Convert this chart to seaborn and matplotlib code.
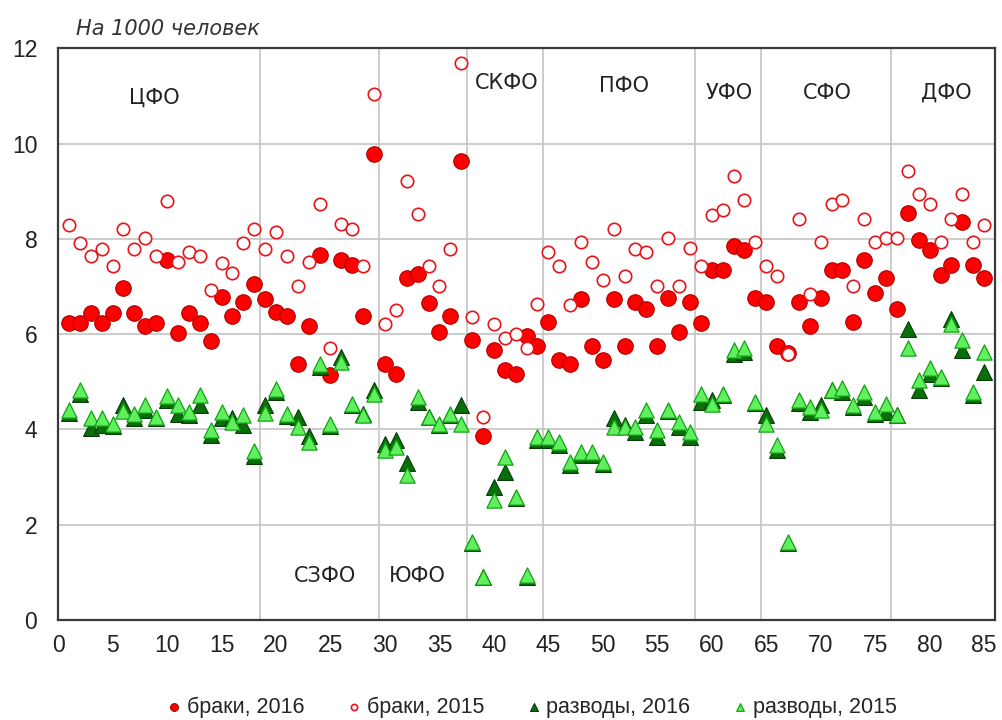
import numpy as np
import pandas as pd
import matplotlib
matplotlib.use("Agg")
import matplotlib.pyplot as plt
import seaborn as sns

# regions numbered 1..85, grouped by federal district
regions = np.arange(1, 86)
district_names = ["ЦФО", "СЗФО", "ЮФО", "СКФО", "ПФО", "УФО", "СФО", "ДФО"]
district_sizes = [18, 11, 8, 7, 14, 6, 12, 9]
label_x = [8.8, 24.5, 33.0, 41.2, 51.9, 61.6, 70.6, 81.5]
label_y = [10.95, 0.92, 0.92, 11.26, 11.2, 11.07, 11.07, 11.07]

# marriages per 1000 people
marr_2016 = [6.23, 6.23, 6.44, 6.23, 6.44, 6.97, 6.44, 6.16, 6.23, 7.55,
             6.02, 6.44, 6.23, 5.86, 6.78, 6.37, 6.67, 7.06, 6.74, 6.46,
             6.37, 5.37, 6.16, 7.67, 5.14, 7.55, 7.44, 6.38, 9.77, 5.37,
             5.16, 7.18, 7.27, 6.65, 6.04, 6.37, 9.64, 5.87, 3.86, 5.66,
             5.25, 5.16, 5.97, 5.74, 6.25, 5.45, 5.37, 6.74, 5.74, 5.45,
             6.74, 5.74, 6.67, 6.53, 5.74, 6.76, 6.04, 6.67, 6.24, 7.35,
             7.35, 7.84, 7.76, 6.76, 6.67, 5.76, 5.60, 6.67, 6.18, 6.76,
             7.35, 7.35, 6.25, 7.56, 6.87, 7.18, 6.53, 8.55, 7.98, 7.76,
             7.25, 7.46, 8.35, 7.46, 7.18]
marr_2015 = [8.30, 7.92, 7.63, 7.79, 7.43, 8.21, 7.79, 8.02, 7.63, 8.80,
             7.51, 7.72, 7.63, 6.92, 7.50, 7.28, 7.92, 8.21, 7.79, 8.14,
             7.63, 7.00, 7.51, 8.72, 5.70, 8.31, 8.21, 7.43, 11.03, 6.22,
             6.50, 9.22, 8.53, 7.43, 7.00, 7.79, 11.69, 6.35, 4.26, 6.22,
             5.92, 6.01, 5.70, 6.63, 7.72, 7.43, 6.62, 7.93, 7.51, 7.13,
             8.21, 7.22, 7.79, 7.72, 7.00, 8.01, 7.00, 7.81, 7.43, 8.50,
             8.60, 9.32, 8.81, 7.93, 7.43, 7.22, 5.58, 8.42, 6.85, 7.93,
             8.72, 8.81, 7.00, 8.42, 7.93, 8.02, 8.02, 9.43, 8.93, 8.72,
             7.93, 8.42, 8.93, 7.93, 8.30]

# divorces per 1000 people
div_2016 = [4.35, 4.75, 4.02, 4.10, 4.08, 4.51, 4.23, 4.40, 4.23, 4.61,
            4.33, 4.30, 4.51, 3.88, 4.23, 4.23, 4.09, 3.45, 4.51, 4.79,
            4.28, 4.26, 3.86, 5.30, 4.08, 5.52, 4.51, 4.33, 4.82, 3.69,
            3.77, 3.30, 4.58, 4.26, 4.09, 4.30, 4.51, 1.61, 0.91, 2.78,
            3.11, 2.55, 0.91, 3.77, 3.77, 3.67, 3.25, 3.46, 3.46, 3.28,
            4.23, 4.09, 3.95, 4.30, 3.84, 4.38, 4.05, 3.84, 4.58, 4.61,
            4.72, 5.59, 5.63, 4.55, 4.30, 3.56, 1.61, 4.55, 4.37, 4.51,
            4.82, 4.79, 4.47, 4.68, 4.33, 4.37, 4.30, 6.11, 4.82, 5.17,
            5.07, 6.32, 5.66, 4.72, 5.21]
div_2015 = [4.40, 4.82, 4.23, 4.23, 4.11, 4.38, 4.33, 4.51, 4.26, 4.70,
            4.51, 4.37, 4.72, 3.98, 4.37, 4.16, 4.30, 3.55, 4.35, 4.84,
            4.32, 4.05, 3.74, 5.37, 4.11, 5.42, 4.54, 4.30, 4.75, 3.56,
            3.63, 3.04, 4.68, 4.26, 4.12, 4.33, 4.12, 1.64, 0.91, 2.52,
            3.42, 2.59, 0.94, 3.84, 3.84, 3.74, 3.32, 3.53, 3.53, 3.32,
            4.05, 4.05, 4.05, 4.40, 3.98, 4.40, 4.16, 3.95, 4.75, 4.54,
            4.75, 5.66, 5.70, 4.58, 4.12, 3.67, 1.64, 4.61, 4.47, 4.40,
            4.82, 4.86, 4.51, 4.79, 4.37, 4.54, 4.30, 5.70, 5.03, 5.28,
            5.10, 6.22, 5.87, 4.79, 5.63]

sns.set_style("white")
plt.rcParams["font.family"] = ["Liberation Sans", "DejaVu Sans"]

fig = plt.figure(figsize=(10.02, 7.2), dpi=100)
ax = fig.add_axes([0.058, 0.139, 0.935, 0.794])

# district borders and horizontal grid
borders = np.cumsum(district_sizes)[:-1] + 0.5
for b in borders:
    ax.axvline(b, color="#c4c4c4", lw=1.2, zorder=0)
for yv in [2, 4, 6, 8, 10]:
    ax.axhline(yv, color="#c4c4c4", lw=1.2, zorder=0)

sns.scatterplot(x=regions, y=marr_2016, ax=ax, marker="o", s=125,
                color="#ff0000", edgecolor="#b00000", linewidth=0.8,
                label="браки, 2016", zorder=3)
sns.scatterplot(x=regions, y=marr_2015, ax=ax, marker="o", s=80,
                color="white", edgecolor="#e8141a", linewidth=1.2,
                label="браки, 2015", zorder=4)
sns.scatterplot(x=regions, y=div_2016, ax=ax, marker="^", s=130,
                color="#0a6e0a", edgecolor="#033d03", linewidth=0.8,
                label="разводы, 2016", zorder=5)
sns.scatterplot(x=regions, y=div_2015, ax=ax, marker="^", s=120,
                color="#5fef5f", edgecolor="#13a313", linewidth=0.9,
                label="разводы, 2015", zorder=6)

for name, lx, ly in zip(district_names, label_x, label_y):
    ax.text(lx, ly, name, ha="center", va="center", fontsize=15,
            family=["DejaVu Sans"], color="#222222", zorder=7)

ax.set_xlim(0, 86)
ax.set_ylim(0, 12)
ax.set_xticks(np.arange(0, 86, 5))
ax.set_yticks(np.arange(0, 13, 2))
ax.tick_params(axis="both", length=0, labelsize=16.5, colors="#222222")
ax.tick_params(axis="x", pad=10)
ax.tick_params(axis="y", pad=15)
ax.set_xlabel("")
ax.set_ylabel("")
for sp in ax.spines.values():
    sp.set_visible(True)
    sp.set_color("#3a3a3a")
    sp.set_linewidth(1.6)

fig.text(0.076, 0.952, "На 1000 человек", fontsize=15, style="italic",
         family=["DejaVu Sans"], color="#333333", ha="left", va="baseline")

handles, labels = ax.get_legend_handles_labels()
ax.legend_.remove()
fig.legend(handles, labels, loc="center", bbox_to_anchor=(0.531, 0.018),
           ncol=4, frameon=False, fontsize=15.5, markerscale=0.5,
           handlelength=0.6, handletextpad=0.3, columnspacing=2.0,
           borderpad=0.1)

fig.savefig("out.png", dpi=100)
